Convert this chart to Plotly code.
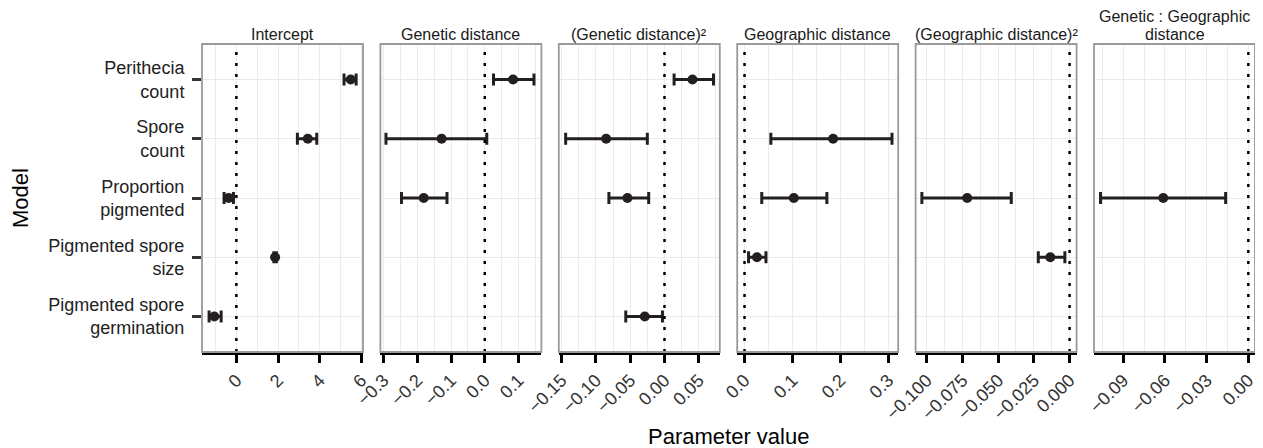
import plotly.graph_objects as go

# ---------------- data ----------------
models = ["Perithecia<br>count", "Spore<br>count", "Proportion<br>pigmented",
          "Pigmented spore<br>size", "Pigmented spore<br>germination"]

terms = ["Intercept", "Genetic distance", "(Genetic distance)²",
         "Geographic distance", "(Geographic distance)²",
         "Genetic : Geographic<br>distance"]

# estimates / lower / upper for each term (None = term not in model)
intercept_est = [5.49, 3.43, -0.37, 1.86, -1.06]
intercept_lo = [5.17, 2.93, -0.59, 1.80, -1.31]
intercept_hi = [5.75, 3.86, -0.14, 1.92, -0.73]

gen_est = [0.084, -0.128, -0.181, None, None]
gen_lo = [0.026, -0.293, -0.247, None, None]
gen_hi = [0.146, 0.006, -0.112, None, None]

gen2_est = [0.0408, -0.085, -0.054, None, -0.0287]
gen2_lo = [0.014, -0.144, -0.081, None, -0.0564]
gen2_hi = [0.0714, -0.025, -0.023, None, -0.003]

geo_est = [None, 0.185, 0.103, 0.026, None]
geo_lo = [None, 0.055, 0.036, 0.0084, None]
geo_hi = [None, 0.308, 0.172, 0.0448, None]

geo2_est = [None, None, -0.0716, -0.0135, None]
geo2_lo = [None, None, -0.1033, -0.0219, None]
geo2_hi = [None, None, -0.0408, -0.0033, None]

gxg_est = [None, None, -0.0612, None, None]
gxg_lo = [None, None, -0.1063, None, None]
gxg_hi = [None, None, -0.0163, None, None]

series = [
    (intercept_est, intercept_lo, intercept_hi),
    (gen_est, gen_lo, gen_hi),
    (gen2_est, gen2_lo, gen2_hi),
    (geo_est, geo_lo, geo_hi),
    (geo2_est, geo2_lo, geo2_hi),
    (gxg_est, gxg_lo, gxg_hi),
]

# ---------------- layout settings ----------------
W, H = 1263, 448
OFF = 8  # page body margin offset
x_ranges = [[-1.65, 6.08], [-0.3095, 0.168], [-0.154, 0.0806],
            [-0.0153, 0.321], [-0.1077, 0.0049], [-0.111, 0.0048]]
dticks = [2, 0.1, 0.05, 0.1, 0.025, 0.03]
tickformats = ["d", ".1f", ".2f", ".1f", ".3f", ".2f"]

panel_left = 202
panel_step = 178.4
panel_w = 161
panel_top = 44
panel_bot = 352


def px_x(p):
    return (p - OFF) / W


def px_y(p):
    return 1 - (p - OFF) / H


FONT = "Liberation Sans, Arial, Helvetica, sans-serif"
INK = "#231f20"
GRID = "#ebebeb"

fig = go.Figure()
shapes = []
annotations = []

y_dom = [px_y(panel_bot), px_y(panel_top)]

for i, (est, lo, hi) in enumerate(series):
    n = i + 1
    xs, ys, plus, minus = [], [], [], []
    for m, e, l, h in zip(models, est, lo, hi):
        if e is None:
            continue
        xs.append(e)
        ys.append(m)
        plus.append(h - e)
        minus.append(e - l)
    xa = "x" if n == 1 else f"x{n}"
    ya = "y" if n == 1 else f"y{n}"
    fig.add_trace(go.Scatter(
        x=xs, y=ys, mode="markers", xaxis=xa, yaxis=ya,
        marker=dict(size=10, color=INK),
        error_x=dict(type="data", symmetric=False, array=plus, arrayminus=minus,
                     thickness=3, width=6, color=INK),
        showlegend=False, hoverinfo="x+y",
    ))

    l_px = panel_left + i * panel_step
    x_dom = [px_x(l_px), px_x(l_px + panel_w)]
    xkey = "xaxis" if n == 1 else f"xaxis{n}"
    ykey = "yaxis" if n == 1 else f"yaxis{n}"
    fig.layout[xkey] = dict(
        domain=x_dom, anchor=ya, range=x_ranges[i], tick0=0, dtick=dticks[i],
        tickformat=tickformats[i], tickangle=-45,
        showgrid=True, gridcolor=GRID, gridwidth=1.2,
        minor=dict(dtick=dticks[i] / 2, tick0=0, showgrid=True, gridcolor=GRID, gridwidth=0.6),
        zeroline=False, showline=True, linecolor="black", linewidth=2.5,
        ticks="outside", ticklen=8, tickwidth=2.5, tickcolor="black",
        tickfont=dict(family=FONT, size=18, color="#333333"),
        automargin=False, fixedrange=True,
    )
    fig.layout[ykey] = dict(
        domain=y_dom, anchor=xa, type="category",
        categoryorder="array", categoryarray=models,
        range=[4.6, -0.6],
        showgrid=True, gridcolor=GRID, gridwidth=1.2, zeroline=False,
        showline=False,
        showticklabels=(n == 1),
        ticks="outside" if n == 1 else "", ticklen=9, tickwidth=2.5, tickcolor="#333333",
        ticklabelstandoff=4,
        tickfont=dict(family=FONT, size=18, color="#222222"),
        automargin=False, fixedrange=True,
    )
    if n > 1:
        fig.layout[ykey]["matches"] = "y"

    # zero reference line
    shapes.append(dict(type="line", xref=xa, yref=f"{ya} domain", x0=0, x1=0, y0=0, y1=1,
                       line=dict(color="black", width=2.5, dash="3px,8px"), layer="above"))
    # panel border
    shapes.append(dict(type="rect", xref=f"{xa} domain", yref=f"{ya} domain",
                       x0=0, x1=1, y0=0, y1=1, line=dict(color="#9a9a9a", width=1.8),
                       layer="above"))
    # strip title (one annotation per line so line spacing matches)
    lines = terms[i].split("<br>")
    centers = [35] if len(lines) == 1 else [16, 35]
    for txt, cy in zip(lines, centers):
        annotations.append(dict(text=txt, xref="paper", yref="paper",
                                x=(x_dom[0] + x_dom[1]) / 2, y=px_y(cy), xanchor="center",
                                yanchor="middle", showarrow=False,
                                font=dict(family=FONT, size=16, color="#1a1a1a")))

annotations.append(dict(text="Parameter value", xref="paper", yref="paper",
                        x=px_x((panel_left + 5 * panel_step + panel_w + panel_left) / 2),
                        y=px_y(436), xanchor="center", yanchor="middle", showarrow=False,
                        font=dict(family=FONT, size=22, color="black")))
annotations.append(dict(text="Model", xref="paper", yref="paper",
                        x=px_x(21), y=px_y(198), xanchor="center", yanchor="middle",
                        textangle=-90, showarrow=False,
                        font=dict(family=FONT, size=22, color="black")))

fig.update_layout(
    width=W, height=H, margin=dict(l=0, r=0, t=0, b=0),
    paper_bgcolor="white", plot_bgcolor="white",
    shapes=shapes, annotations=annotations,
)

fig.write_html("out.html")
